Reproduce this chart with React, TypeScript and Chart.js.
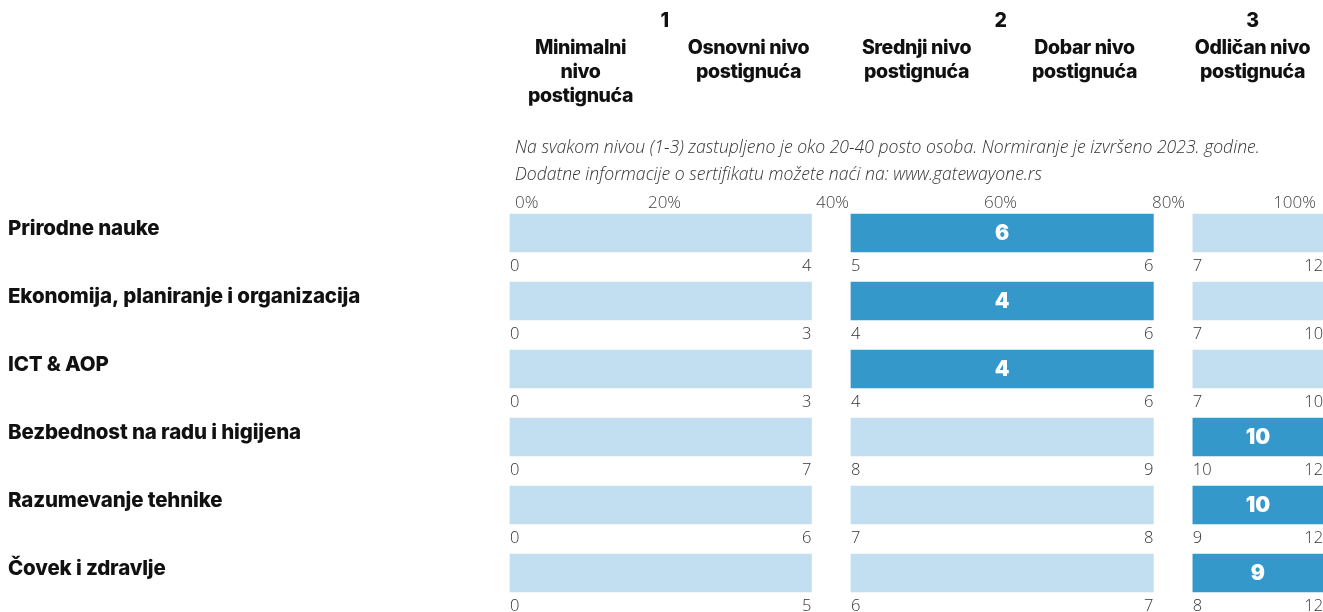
import React, { useEffect, useRef } from "react";
import { Chart, registerables } from "chart.js";

Chart.register(...registerables);

// ---- data ----
const rowLabels = [
  "Prirodne nauke",
  "Ekonomija, planiranje i organizacija",
  "ICT & AOP",
  "Bezbednost na radu i higijena",
  "Razumevanje tehnike",
  "Čovek i zdravlje",
];
const scores = [6, 4, 4, 10, 10, 9];
const scoreBand = [1, 1, 1, 2, 2, 2]; // index of the band that holds the score
const band1Min = [0, 0, 0, 0, 0, 0];
const band1Max = [4, 3, 3, 7, 6, 5];
const band2Min = [5, 4, 4, 8, 7, 6];
const band2Max = [6, 6, 6, 9, 8, 7];
const band3Min = [7, 7, 7, 10, 9, 8];
const band3Max = [12, 10, 10, 12, 12, 12];
// band extents on the percentile axis
const bandStart = [1.6, 42.2, 82.9];
const bandEnd = [37.5, 78.2, 98.4];
const pctTicks = [0, 20, 40, 60, 80, 100];
const headerTexts = [
  ["Minimalni", "nivo", "postignuća"],
  ["Osnovni nivo", "postignuća"],
  ["Srednji nivo", "postignuća"],
  ["Dobar nivo", "postignuća"],
  ["Odličan nivo", "postignuća"],
];
const headerPct = [10, 30, 50, 70, 90];
const levelNumbers = ["1", "2", "3"];
const levelPct = [20, 60, 90];
const noteLines = [
  "Na svakom nivou (1-3) zastupljeno je oko 20-40 posto osoba. Normiranje je izvršeno 2023. godine.",
  "Dodatne informacije o sertifikatu možete naći na: www.gatewayone.rs",
];

const LIGHT = "#c1dff0";
const DARK = "#3498cb";
const BOLD_FONT = "Inter, Roboto, sans-serif";
const LIGHT_FONT = "'Open Sans', Roboto, sans-serif";

const bandMins = [band1Min, band2Min, band3Min];
const bandMaxs = [band1Max, band2Max, band3Max];

const textPlugin = {
  id: "texts",
  afterDraw(chart: any) {
    const ctx = chart.ctx as any;
    const x = chart.scales.x;
    const y = chart.scales.y;
    ctx.save();
    // headers
    ctx.fillStyle = "#111";
    ctx.textAlign = "center";
    ctx.textBaseline = "alphabetic";
    ctx.letterSpacing = "-0.4px";
    ctx.font = `800 19.5px ${BOLD_FONT}`;
    levelNumbers.forEach((t, i) => {
      ctx.fillText(t, x.getPixelForValue(levelPct[i]), 27);
    });
    headerTexts.forEach((lines, i) => {
      lines.forEach((ln, j) => {
        ctx.fillText(ln, x.getPixelForValue(headerPct[i]), 54 + j * 24);
      });
    });
    ctx.letterSpacing = "0px";
    // notes
    ctx.font = `italic 300 17.6px 'Open Sans', sans-serif`;
    ctx.fillStyle = "#333";
    ctx.textAlign = "left";
    noteLines.forEach((ln, j) => {
      ctx.fillText(ln, 515, 153 + j * 27);
    });
    // percent ticks
    ctx.font = `300 17px ${LIGHT_FONT}`;
    ctx.fillStyle = "#444";
    pctTicks.forEach((v) => {
      const w = ctx.measureText(v + "%").width;
      let cx = x.getPixelForValue(v);
      cx = Math.max(515 + w / 2, Math.min(1316 - w / 2, cx));
      ctx.textAlign = "center";
      ctx.fillText(v + "%", cx, 208);
    });
    // rows
    rowLabels.forEach((lab, i) => {
      const cy = y.getPixelForValue(i);
      ctx.fillStyle = "#111";
      ctx.font = `800 20.5px ${BOLD_FONT}`;
      ctx.letterSpacing = "-0.15px";
      ctx.textAlign = "left";
      ctx.textBaseline = "alphabetic";
      ctx.fillText(lab, 8, cy + 2);
      ctx.letterSpacing = "0px";
      // band min/max values
      ctx.font = `300 16.5px ${LIGHT_FONT}`;
      ctx.fillStyle = "#333";
      for (let b = 0; b < 3; b++) {
        ctx.textAlign = "left";
        ctx.fillText(String(bandMins[b][i]), x.getPixelForValue(bandStart[b]), cy + 38);
        ctx.textAlign = "right";
        ctx.fillText(String(bandMaxs[b][i]), x.getPixelForValue(bandEnd[b]), cy + 38);
      }
      // score
      const b = scoreBand[i];
      ctx.fillStyle = "#fff";
      ctx.font = `900 21px ${BOLD_FONT}`;
      ctx.textAlign = "center";
      ctx.textBaseline = "middle";
      ctx.fillText(
        String(scores[i]),
        (x.getPixelForValue(bandStart[b]) + x.getPixelForValue(bandEnd[b])) / 2,
        cy + 1
      );
    });
    ctx.restore();
  },
};

export default function App() {
  const ref = useRef<HTMLCanvasElement | null>(null);
  useEffect(() => {
    if (!ref.current) return;
    const datasets = [0, 1, 2].map((b) => ({
      label: "band" + (b + 1),
      data: rowLabels.map(() => [bandStart[b], bandEnd[b]]),
      backgroundColor: rowLabels.map((_, i) => (scoreBand[i] === b ? DARK : LIGHT)),
      barThickness: 38,
      stack: "row",
      borderWidth: 0,
    }));
    const chart = new Chart(ref.current, {
      type: "bar",
      data: { labels: rowLabels, datasets: datasets as any },
      options: {
        indexAxis: "y",
        animation: false,
        responsive: false,
        layout: { padding: { left: 496.5, right: 3.5, top: 199, bottom: 5 } },
        plugins: { legend: { display: false }, tooltip: { enabled: false } },
        scales: {
          x: { min: 0, max: 100, display: false, stacked: false },
          y: { display: false, stacked: true },
        },
      },
      plugins: [textPlugin],
    });
    return () => chart.destroy();
  }, []);
  return (
    <div
      style={{
        position: "fixed",
        left: 0,
        top: 0,
        width: 1323,
        height: 612,
        overflow: "hidden",
        background: "#fff",
      }}
    >
      <canvas ref={ref} width={1340} height={612} style={{ width: 1340, height: 612 }} />
    </div>
  );
}
